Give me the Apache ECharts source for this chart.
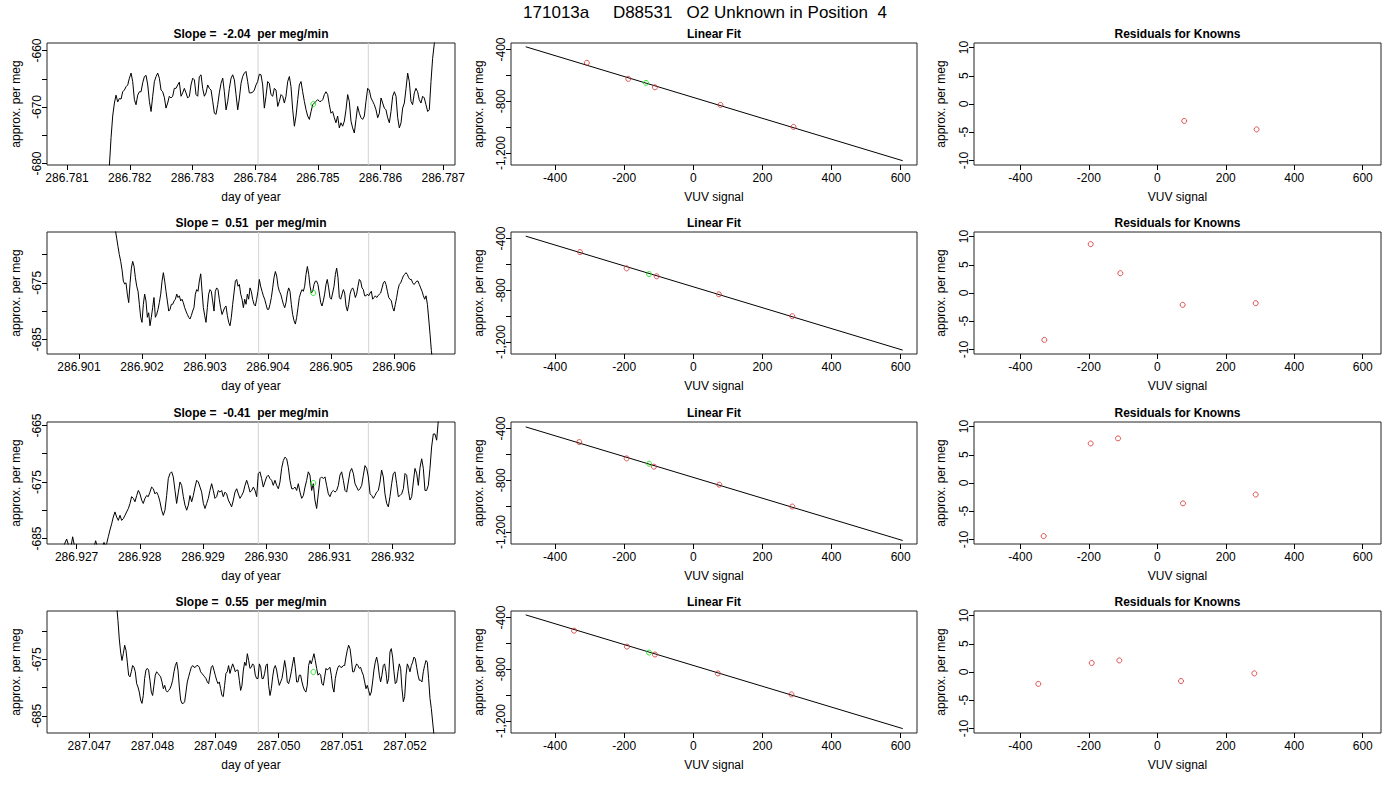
<!DOCTYPE html>
<html>
<head>
<meta charset="utf-8">
<title>171013a D88531 O2 Unknown in Position 4</title>
<script src="https://cdn.jsdelivr.net/npm/echarts@6/dist/echarts.min.js"></script>
<style>
html, body { margin: 0; padding: 0; background: #fff; }
#main { width: 1400px; height: 800px; }
</style>
</head>
<body>
<div id="main"></div>
<script>
// ---- texts ----
var mainTitle = '171013a     D88531   O2 Unknown in Position  4';
var slopes = ['-2.04', '0.51', '-0.41', '0.55'];

// ---- left column: raw traces (day of year, approx. per meg) ----
var t1 = [286.781675,286.781702,286.781728,286.781755,286.781781,286.781808,286.781834,286.781861,286.781888,286.781914,
286.781941,286.781968,286.781994,286.782021,286.782047,286.782074,286.782100,286.782127,286.782154,286.782180,
286.782207,286.782234,286.782260,286.782287,286.782313,286.782340,286.782366,286.782393,286.782420,286.782446,
286.782472,286.782499,286.782525,286.782552,286.782578,286.782605,286.782631,286.782658,286.782685,286.782711,
286.782738,286.782765,286.782791,286.782818,286.782844,286.782871,286.782897,286.782924,286.782951,286.782977,
286.783004,286.783031,286.783057,286.783084,286.783110,286.783137,286.783163,286.783190,286.783217,286.783243,
286.783270,286.783297,286.783323,286.783350,286.783376,286.783403,286.783429,286.783456,286.783483,286.783509,
286.783536,286.783563,286.783589,286.783616,286.783642,286.783669,286.783695,286.783722,286.783749,286.783775,
286.783801,286.783828,286.783854,286.783881,286.783907,286.783934,286.783960,286.783987,286.784014,286.784040,
286.784067,286.784094,286.784120,286.784147,286.784173,286.784200,286.784226,286.784253,286.784280,286.784306,
286.784333,286.784360,286.784386,286.784413,286.784439,286.784466,286.784492,286.784519,286.784546,286.784572,
286.784599,286.784626,286.784652,286.784679,286.784705,286.784732,286.784758,286.784785,286.784812,286.784838,
286.784865,286.784892,286.784918,286.784945,286.784971,286.784998,286.785024,286.785051,286.785078,286.785104,
286.785130,286.785157,286.785183,286.785210,286.785236,286.785263,286.785289,286.785316,286.785343,286.785369,
286.785396,286.785423,286.785449,286.785476,286.785502,286.785529,286.785555,286.785582,286.785609,286.785635,
286.785662,286.785689,286.785715,286.785742,286.785768,286.785795,286.785821,286.785848,286.785875,286.785901,
286.785928,286.785955,286.785981,286.786008,286.786034,286.786061,286.786087,286.786114,286.786141,286.786167,
286.786194,286.786221,286.786247,286.786274,286.786300,286.786327,286.786353,286.786380,286.786407,286.786433,
286.786459,286.786486,286.786512,286.786539,286.786565,286.786592,286.786618,286.786645,286.786672,286.786698,
286.786725,286.786752,286.786778,286.786805,286.786831,286.786858,286.786885];
var v1 = [-680.4,-675.4,-671.6,-669.3,-667.9,-669.1,-668.5,-668.6,-667.3,-667.0,
-666.4,-666.1,-664.9,-664.0,-665.5,-668.7,-669.6,-667.9,-667.3,-667.3,
-665.7,-664.6,-664.4,-666.1,-669.0,-670.8,-668.1,-665.5,-664.6,-664.0,
-664.9,-667.0,-667.3,-668.3,-670.2,-669.3,-668.1,-668.4,-668.1,-666.7,
-666.7,-666.1,-665.6,-668.1,-667.5,-666.7,-667.5,-668.4,-668.1,-666.1,
-664.9,-665.2,-667.8,-668.1,-664.6,-664.3,-666.7,-668.1,-667.5,-666.1,
-666.7,-667.0,-669.0,-671.1,-671.3,-669.6,-667.5,-665.8,-664.9,-667.3,
-670.5,-669.0,-666.7,-664.9,-664.3,-665.2,-667.8,-670.5,-668.4,-665.8,
-664.6,-664.0,-663.7,-665.5,-667.5,-667.5,-667.4,-667.0,-666.1,-665.5,
-664.2,-664.3,-666.1,-670.2,-668.1,-665.5,-665.8,-667.8,-668.1,-666.7,
-667.0,-669.9,-669.0,-667.8,-668.1,-669.3,-668.1,-665.5,-664.6,-666.4,
-670.5,-673.4,-671.6,-668.7,-666.1,-665.5,-667.3,-669.0,-670.5,-671.6,
-672.2,-670.8,-669.6,-669.3,-669.0,-668.7,-669.0,-669.0,-668.7,-667.8,
-667.3,-667.8,-669.6,-671.1,-670.8,-671.9,-672.8,-671.6,-673.7,-672.8,
-673.4,-672.5,-670.5,-667.8,-669.0,-672.5,-673.7,-674.6,-672.2,-669.9,
-671.1,-671.9,-672.2,-671.6,-669.0,-666.7,-667.0,-668.4,-669.0,-669.6,
-670.5,-671.9,-671.1,-668.4,-669.3,-670.2,-670.5,-671.9,-672.8,-670.8,
-668.1,-667.3,-668.1,-671.9,-673.7,-672.8,-670.2,-669.3,-666.7,-664.0,
-665.5,-669.0,-669.6,-667.5,-666.7,-667.3,-668.7,-669.3,-668.1,-668.4,
-669.6,-670.8,-670.5,-665.5,-661.4,-658.8,-656.5];

var t2 = [286.901577,286.901598,286.901619,286.901640,286.901662,286.901683,286.901704,286.901725,286.901746,286.901767,
286.901789,286.901810,286.901831,286.901852,286.901874,286.901895,286.901916,286.901937,286.901958,286.901979,
286.902000,286.902021,286.902042,286.902063,286.902085,286.902106,286.902127,286.902148,286.902169,286.902190,
286.902212,286.902233,286.902254,286.902275,286.902297,286.902318,286.902339,286.902360,286.902381,286.902402,
286.902424,286.902445,286.902466,286.902487,286.902509,286.902530,286.902551,286.902572,286.902593,286.902614,
286.902635,286.902656,286.902677,286.902698,286.902720,286.902741,286.902762,286.902783,286.902804,286.902825,
286.902847,286.902868,286.902889,286.902910,286.902932,286.902953,286.902974,286.902995,286.903016,286.903037,
286.903058,286.903079,286.903100,286.903121,286.903143,286.903164,286.903185,286.903206,286.903227,286.903248,
286.903270,286.903291,286.903312,286.903333,286.903355,286.903376,286.903397,286.903418,286.903439,286.903460,
286.903482,286.903503,286.903524,286.903545,286.903567,286.903588,286.903609,286.903630,286.903651,286.903672,
286.903693,286.903714,286.903735,286.903756,286.903778,286.903799,286.903820,286.903841,286.903862,286.903883,
286.903905,286.903926,286.903947,286.903968,286.903990,286.904011,286.904032,286.904053,286.904074,286.904095,
286.904117,286.904138,286.904159,286.904180,286.904202,286.904223,286.904244,286.904265,286.904286,286.904307,
286.904328,286.904349,286.904370,286.904391,286.904413,286.904434,286.904455,286.904476,286.904497,286.904518,
286.904540,286.904561,286.904582,286.904603,286.904625,286.904646,286.904667,286.904688,286.904709,286.904730,
286.904751,286.904772,286.904793,286.904814,286.904836,286.904857,286.904878,286.904899,286.904920,286.904941,
286.904963,286.904984,286.905005,286.905026,286.905048,286.905069,286.905090,286.905111,286.905132,286.905153,
286.905175,286.905196,286.905217,286.905238,286.905260,286.905281,286.905302,286.905323,286.905344,286.905365,
286.905386,286.905407,286.905428,286.905449,286.905471,286.905492,286.905513,286.905534,286.905555,286.905576,
286.905598,286.905619,286.905640,286.905661,286.905683,286.905704,286.905725,286.905746,286.905767,286.905788,
286.905810,286.905831,286.905852,286.905873,286.905895,286.905916,286.905937,286.905958,286.905979,286.906000,
286.906021,286.906042,286.906063,286.906084,286.906106,286.906127,286.906148,286.906169,286.906190,286.906211,
286.906233,286.906254,286.906275,286.906296,286.906318,286.906339,286.906360,286.906381,286.906402,286.906423,
286.906445,286.906466,286.906487,286.906508,286.906530,286.906551,286.906572,286.906593,286.906614];
var v2 = [-665.6,-667.1,-668.6,-670.0,-671.2,-672.7,-674.7,-675.2,-675.0,-677.0,
-678.5,-675.1,-672.4,-671.2,-672.1,-674.1,-675.6,-676.5,-678.8,-681.1,
-682.0,-678.8,-677.0,-678.2,-681.1,-680.3,-682.6,-681.1,-679.4,-677.6,
-681.1,-680.6,-679.7,-678.5,-677.0,-674.7,-673.2,-674.7,-676.5,-678.2,
-680.0,-679.7,-678.8,-678.8,-678.2,-677.9,-677.0,-677.6,-677.3,-678.2,
-677.9,-678.5,-679.4,-680.0,-680.6,-681.1,-681.4,-680.8,-680.0,-679.4,
-677.0,-676.2,-676.5,-674.7,-673.4,-676.5,-679.4,-680.8,-682.0,-679.4,
-677.0,-676.2,-676.5,-678.2,-680.0,-676.5,-675.9,-676.2,-677.9,-679.4,
-680.6,-680.0,-679.4,-679.1,-680.8,-682.0,-682.6,-681.1,-678.8,-676.8,
-674.7,-674.4,-675.6,-675.3,-677.0,-677.9,-679.4,-677.9,-678.8,-677.0,
-677.9,-675.9,-676.5,-677.9,-678.8,-679.1,-677.9,-676.5,-674.4,-675.6,
-676.5,-677.3,-677.9,-678.8,-679.7,-679.7,-678.8,-677.6,-675.9,-674.1,
-673.0,-673.8,-675.6,-676.5,-677.0,-677.9,-678.8,-679.4,-678.5,-676.8,
-675.9,-676.5,-678.8,-680.6,-681.7,-682.3,-681.1,-679.4,-677.6,-676.8,
-676.2,-676.5,-675.6,-673.5,-672.1,-673.5,-675.6,-676.8,-676.5,-675.3,
-674.7,-674.7,-675.3,-676.8,-678.5,-679.1,-678.2,-677.0,-675.3,-674.4,
-675.9,-677.6,-677.9,-676.8,-675.6,-673.5,-672.4,-674.1,-677.6,-677.9,
-677.0,-676.2,-676.8,-679.1,-680.0,-678.8,-677.0,-676.2,-675.9,-676.5,
-677.6,-677.0,-675.6,-674.4,-674.7,-675.9,-676.2,-677.3,-677.3,-677.0,
-677.3,-676.8,-676.5,-677.9,-677.6,-677.3,-677.6,-677.3,-677.0,-676.8,
-675.9,-675.0,-674.7,-675.3,-676.5,-677.6,-677.9,-678.2,-679.4,-680.0,
-678.8,-677.6,-676.2,-675.3,-675.0,-674.4,-673.8,-673.5,-673.2,-673.5,
-674.1,-674.4,-674.4,-675.0,-675.3,-675.0,-674.7,-674.7,-675.3,-675.9,
-676.5,-677.3,-677.9,-677.3,-678.8,-681.4,-684.1,-687.0,-689.3];

var t3 = [286.926579,286.926790,286.926843,286.926880,286.926911,286.926938,286.926969,286.927275,286.927302,286.927328,286.927407,286.927434,286.927454,286.927476,
286.927502,286.927528,286.927555,286.927581,286.927607,286.927634,286.927660,286.927687,286.927713,286.927739,
286.927766,286.927792,286.927819,286.927845,286.927871,286.927898,286.927924,286.927951,286.927977,286.928003,
286.928029,286.928055,286.928082,286.928108,286.928134,286.928161,286.928187,286.928214,286.928240,286.928266,
286.928293,286.928319,286.928346,286.928372,286.928398,286.928425,286.928451,286.928478,286.928504,286.928530,
286.928557,286.928583,286.928610,286.928636,286.928662,286.928689,286.928715,286.928742,286.928768,286.928794,
286.928821,286.928847,286.928874,286.928900,286.928926,286.928953,286.928979,286.929006,286.929032,286.929058,
286.929084,286.929110,286.929137,286.929163,286.929189,286.929216,286.929242,286.929269,286.929295,286.929321,
286.929348,286.929374,286.929401,286.929427,286.929453,286.929480,286.929506,286.929533,286.929559,286.929585,
286.929612,286.929638,286.929665,286.929691,286.929717,286.929744,286.929770,286.929797,286.929823,286.929849,
286.929875,286.929901,286.929928,286.929954,286.929980,286.930007,286.930033,286.930060,286.930086,286.930112,
286.930139,286.930165,286.930192,286.930218,286.930244,286.930271,286.930297,286.930324,286.930350,286.930376,
286.930403,286.930429,286.930456,286.930482,286.930508,286.930535,286.930561,286.930588,286.930614,286.930640,
286.930666,286.930692,286.930719,286.930745,286.930771,286.930798,286.930824,286.930851,286.930877,286.930903,
286.930930,286.930956,286.930983,286.931009,286.931035,286.931062,286.931088,286.931115,286.931141,286.931167,
286.931194,286.931220,286.931247,286.931273,286.931299,286.931326,286.931352,286.931379,286.931405,286.931431,
286.931458,286.931484,286.931511,286.931537,286.931563,286.931590,286.931616,286.931643,286.931669,286.931695,
286.931721,286.931747,286.931774,286.931800,286.931826,286.931853,286.931879,286.931906,286.931932,286.931958,
286.931985,286.932011,286.932038,286.932064,286.932090,286.932117,286.932143,286.932170,286.932196,286.932222,
286.932249,286.932275,286.932302,286.932328,286.932354,286.932381,286.932407,286.932434,286.932460,286.932486,
286.932512,286.932538,286.932565,286.932591,286.932617,286.932644,286.932670,286.932697,286.932723,286.932749];
var v3 = [-686.5,-686.5,-685.1,-686.5,-686.5,-684.7,-686.5,-686.5,-685.4,-686.5,-686.5,-685.7,-686.3,-685.9,
-684.7,-683.5,-682.4,-681.2,-680.3,-681.2,-681.8,-680.9,-681.8,-681.5,
-680.9,-680.3,-679.7,-678.8,-677.6,-677.9,-678.5,-677.4,-676.5,-677.1,
-678.2,-678.8,-677.9,-677.4,-677.6,-676.8,-675.9,-676.2,-677.1,-676.8,
-677.4,-678.5,-680.0,-680.9,-680.0,-677.4,-674.4,-673.5,-673.2,-674.1,
-676.5,-678.8,-676.8,-675.0,-675.6,-677.6,-679.1,-680.0,-679.1,-677.4,
-678.5,-677.4,-675.9,-674.7,-675.0,-675.9,-676.8,-678.8,-679.7,-678.8,
-677.9,-676.5,-675.3,-676.5,-677.9,-677.6,-676.5,-676.8,-676.5,-677.6,
-676.8,-677.1,-678.2,-678.8,-679.4,-678.2,-676.8,-676.2,-677.1,-677.9,
-677.4,-676.8,-675.6,-674.7,-675.6,-676.8,-676.5,-675.9,-676.5,-677.6,
-673.5,-673.2,-674.4,-675.9,-675.0,-674.1,-673.8,-674.4,-674.7,-675.6,
-674.7,-675.6,-676.2,-675.0,-672.6,-671.2,-670.6,-670.9,-672.4,-674.7,
-676.2,-676.2,-675.9,-676.5,-675.3,-676.8,-677.9,-677.4,-675.9,-674.7,
-673.2,-673.8,-676.5,-675.3,-678.2,-679.7,-677.1,-674.4,-674.1,-674.4,
-674.1,-675.6,-677.1,-677.6,-676.8,-676.5,-676.8,-676.5,-675.6,-673.8,
-673.2,-674.7,-676.5,-676.8,-675.0,-673.2,-672.6,-673.5,-675.3,-675.9,
-676.5,-676.2,-675.6,-673.8,-672.1,-672.6,-674.1,-677.1,-677.4,-677.9,
-677.4,-676.8,-676.5,-675.0,-672.9,-674.1,-677.1,-678.8,-679.4,-677.6,
-675.3,-673.5,-673.2,-675.3,-677.6,-677.4,-677.1,-676.2,-673.5,-673.8,
-676.5,-678.2,-677.6,-675.0,-672.6,-673.5,-675.6,-672.4,-670.9,-672.6,
-676.5,-676.5,-675.6,-672.6,-668.8,-666.5,-666.5,-667.6,-664.1,-662.5];

var t4 = [287.047433,287.047454,287.047475,287.047496,287.047517,287.047539,287.047560,287.047581,287.047602,287.047623,
287.047644,287.047665,287.047686,287.047707,287.047728,287.047750,287.047771,287.047792,287.047813,287.047834,
287.047855,287.047876,287.047897,287.047918,287.047939,287.047961,287.047982,287.048003,287.048024,287.048045,
287.048067,287.048088,287.048109,287.048130,287.048151,287.048173,287.048194,287.048215,287.048236,287.048257,
287.048278,287.048299,287.048320,287.048341,287.048362,287.048384,287.048405,287.048426,287.048447,287.048468,
287.048489,287.048510,287.048531,287.048552,287.048573,287.048595,287.048616,287.048637,287.048658,287.048679,
287.048700,287.048721,287.048742,287.048763,287.048784,287.048806,287.048827,287.048848,287.048869,287.048890,
287.048911,287.048932,287.048953,287.048974,287.048995,287.049017,287.049038,287.049059,287.049080,287.049101,
287.049122,287.049143,287.049164,287.049185,287.049206,287.049228,287.049249,287.049270,287.049291,287.049312,
287.049334,287.049355,287.049376,287.049397,287.049418,287.049440,287.049461,287.049482,287.049503,287.049524,
287.049545,287.049566,287.049587,287.049608,287.049629,287.049651,287.049672,287.049693,287.049714,287.049735,
287.049756,287.049777,287.049798,287.049819,287.049840,287.049862,287.049883,287.049904,287.049925,287.049946,
287.049967,287.049988,287.050009,287.050030,287.050051,287.050073,287.050094,287.050115,287.050136,287.050157,
287.050178,287.050199,287.050220,287.050241,287.050262,287.050284,287.050305,287.050326,287.050347,287.050368,
287.050389,287.050410,287.050431,287.050452,287.050473,287.050495,287.050516,287.050537,287.050558,287.050579,
287.050601,287.050622,287.050643,287.050664,287.050685,287.050707,287.050728,287.050749,287.050770,287.050791,
287.050812,287.050833,287.050854,287.050875,287.050896,287.050918,287.050939,287.050960,287.050981,287.051002,
287.051023,287.051044,287.051065,287.051086,287.051107,287.051129,287.051150,287.051171,287.051192,287.051213,
287.051234,287.051255,287.051276,287.051297,287.051318,287.051340,287.051361,287.051382,287.051403,287.051424,
287.051445,287.051466,287.051487,287.051508,287.051529,287.051551,287.051572,287.051593,287.051614,287.051635,
287.051656,287.051677,287.051698,287.051719,287.051740,287.051762,287.051783,287.051804,287.051825,287.051846,
287.051868,287.051889,287.051910,287.051931,287.051952,287.051974,287.051995,287.052016,287.052037,287.052058,
287.052079,287.052100,287.052121,287.052142,287.052163,287.052185,287.052206,287.052227,287.052248,287.052269,
287.052290,287.052311,287.052332,287.052353,287.052374,287.052396,287.052417,287.052438,287.052459];
var v4 = [-665.5,-668.1,-671.4,-673.7,-675.2,-674.0,-672.5,-673.4,-675.5,-677.8,
-678.1,-677.2,-676.1,-676.4,-677.2,-679.3,-679.9,-680.8,-682.2,-682.8,
-681.4,-678.4,-676.9,-676.6,-676.9,-678.7,-680.8,-681.4,-679.6,-677.8,
-677.2,-677.5,-677.8,-678.1,-679.0,-680.2,-679.6,-680.5,-680.8,-680.5,
-680.2,-679.6,-678.7,-677.2,-676.1,-675.5,-676.9,-679.9,-682.2,-682.8,
-682.8,-682.5,-680.8,-679.0,-678.1,-677.2,-676.4,-676.1,-676.4,-676.4,
-676.1,-676.1,-676.4,-677.2,-677.5,-677.8,-678.1,-678.4,-679.0,-679.3,
-677.8,-676.4,-676.1,-676.9,-677.8,-678.7,-679.3,-679.0,-680.2,-681.4,
-681.6,-679.6,-677.5,-677.2,-676.1,-677.5,-676.6,-675.8,-676.4,-677.2,
-676.9,-676.9,-678.7,-680.5,-679.6,-676.9,-675.5,-676.1,-674.0,-675.2,
-676.6,-676.4,-675.8,-676.1,-677.8,-678.4,-678.4,-675.8,-676.4,-678.4,
-678.4,-677.5,-676.1,-675.8,-679.6,-681.4,-680.2,-678.1,-676.6,-676.1,
-676.9,-678.4,-679.6,-679.0,-678.4,-676.9,-675.2,-676.6,-679.0,-679.3,
-678.4,-677.2,-675.8,-674.6,-676.4,-679.0,-679.0,-677.8,-677.8,-679.0,
-679.9,-680.5,-680.8,-679.6,-676.1,-675.2,-675.8,-674.9,-674.0,-675.2,
-676.6,-677.8,-677.5,-677.8,-679.3,-679.6,-678.1,-676.6,-676.9,-676.6,
-676.4,-677.8,-679.9,-680.8,-678.4,-677.2,-676.4,-676.1,-676.4,-676.4,
-676.1,-676.1,-674.6,-673.4,-672.5,-673.1,-674.9,-677.2,-677.2,-676.4,
-675.8,-676.1,-676.6,-676.4,-677.2,-677.8,-679.0,-680.2,-679.6,-680.5,
-681.4,-680.8,-679.0,-676.9,-675.5,-674.6,-675.8,-677.8,-679.0,-677.8,
-676.1,-675.8,-677.2,-679.3,-678.4,-673.7,-673.1,-674.6,-677.2,-679.3,
-679.0,-677.2,-675.8,-676.6,-680.2,-682.5,-681.6,-677.8,-675.8,-676.4,
-677.2,-676.1,-675.5,-674.6,-674.9,-676.4,-677.8,-678.7,-678.7,-679.0,
-677.2,-676.1,-675.2,-675.5,-678.4,-681.9,-683.7,-686.1,-688.4];

// unknown (green) point per row, grey marker times
var unkT = [286.784928, 286.904719, 286.930746, 287.050548];
var unkV = [-669.47, -676.8, -675.18, -677.24];
var greyT = [[286.784046, 286.785805], [286.903852, 286.905598], [286.929875, 286.931616], [287.049677, 287.051419]];

// left axes
var leftXMin = [286.78068, 286.900492, 286.926532, 287.04633];
var leftXMax = [286.787188, 286.906968, 286.932987, 287.052792];
var leftYMin = [-680.27, -687.6, -685.98, -688.04];
var leftYMax = [-658.67, -666.0, -664.38, -666.44];
var leftXTicks = [
  [286.781, 286.782, 286.783, 286.784, 286.785, 286.786, 286.787],
  [286.901, 286.902, 286.903, 286.904, 286.905, 286.906],
  [286.927, 286.928, 286.929, 286.930, 286.931, 286.932],
  [287.047, 287.048, 287.049, 287.050, 287.051, 287.052]
];
var leftYTicks = [[-680, -675, -670, -665, -660], [-685, -680, -675, -670], [-685, -680, -675, -670, -665], [-685, -680, -675, -670]];
var leftYLabels = [[-680, -670, -660], [-685, -675], [-685, -675, -665], [-685, -675]];

// middle column: linear fit of knowns
var knownX = [
  [-308, -188, -111, 78.6, 290],
  [-328, -193, -106, 74, 286.5],
  [-330, -193, -114, 75, 286.5],
  [-345, -192, -111, 71, 284]
];
var knownY = [
  [-503, -627, -692, -828, -998],
  [-505, -631, -692, -831, -1000],
  [-505, -631, -695, -834, -1003],
  [-502, -625, -686, -832, -994]
];
var unkVuv = [-137, -128, -128, -128];
var unkFit = [-658, -675, -672, -671];
var fitX = [-485, 606];
var fitY = [[-379, -1259], [-382, -1262], [-388, -1265], [-380, -1258]];

// right column: residuals for knowns
var resX = [
  [78.6, 290],
  [-330, -194.6, -108, 74.1, 287.4],
  [-332, -194.6, -114.8, 75.1, 287.4],
  [-347.6, -191.6, -111, 69.2, 283.4]
];
var resY = [
  [-3.0, -4.5],
  [-8.3, 8.65, 3.5, -2.1, -1.8],
  [-9.4, 7.0, 7.9, -3.6, -2.05],
  [-2.1, 1.6, 2.05, -1.6, -0.25]
];

var vuvTicks = [-400, -200, 0, 200, 400, 600];
var fitYTicks = [-1200, -1000, -800, -600, -400];
var fitYLabels = [-1200, -800, -400];
var resYTicks = [-10, -5, 0, 5, 10];

// ---- layout ----
var FONT = '"Liberation Sans", Arial, Helvetica, sans-serif';
var RED = '#d42a2a';
var GREEN = '#00e600';
var colLeft = [47, 511, 974];
var colWidth = [408, 406, 407];
var rowTop = [43, 232, 422, 611];
var boxH = 122;

var traces = [[t1, v1], [t2, v2], [t3, v3], [t4, v4]];

function pairs(xs, ys) {
  return xs.map(function (x, i) { return [x, ys[i]]; });
}

function makeAxis(opt) {
  return {
    type: 'value',
    gridIndex: opt.grid,
    min: opt.min,
    max: opt.max,
    axisLine: { show: false, onZero: false },
    splitLine: { show: false },
    axisTick: { show: true, inside: false, length: 5, lineStyle: { color: '#000', width: 1 }, customValues: opt.ticks },
    axisLabel: {
      color: '#000', fontSize: 12, fontFamily: FONT,
      margin: opt.margin, rotate: opt.rotate || 0,
      customValues: opt.labels || opt.ticks,
      formatter: opt.formatter
    },
    name: opt.name,
    nameLocation: 'middle',
    nameGap: opt.nameGap,
    nameTextStyle: { color: '#000', fontSize: 12, fontFamily: FONT }
  };
}

var option = {
  animation: false,
  backgroundColor: '#fff',
  grid: [],
  xAxis: [],
  yAxis: [],
  series: [],
  graphic: { elements: [] }
};

option.graphic.elements.push({
  type: 'text', x: 705, y: 12.5,
  style: { text: mainTitle, font: '17px ' + FONT, fill: '#000', textAlign: 'center', textVerticalAlign: 'middle' }
});

for (var r = 0; r < 4; r++) {
  for (var c = 0; c < 3; c++) {
    var idx = r * 3 + c;
    option.grid.push({
      left: colLeft[c], top: rowTop[r], width: colWidth[c], height: boxH,
      show: true, borderColor: '#222', borderWidth: 1, backgroundColor: 'transparent',
      outerBoundsMode: 'none'
    });
    var ttl = c === 0 ? 'Slope =  ' + slopes[r] + '  per meg/min' : (c === 1 ? 'Linear Fit' : 'Residuals for Knowns');
    option.graphic.elements.push({
      type: 'text', x: colLeft[c] + colWidth[c] / 2, y: rowTop[r] - 9.5,
      style: { text: ttl, font: 'bold 12px ' + FONT, fill: '#000', textAlign: 'center', textVerticalAlign: 'middle' }
    });

    if (c === 0) {
      option.xAxis.push(makeAxis({
        grid: idx, min: leftXMin[r], max: leftXMax[r], ticks: leftXTicks[r], margin: 7,
        formatter: function (v) { return v.toFixed(3); }, name: 'day of year', nameGap: 26
      }));
      option.yAxis.push(makeAxis({
        grid: idx, min: leftYMin[r], max: leftYMax[r], ticks: leftYTicks[r], labels: leftYLabels[r],
        margin: 4, rotate: 90, name: 'approx. per meg', nameGap: 25
      }));
      // grey marker lines, full height of the panel
      greyT[r].forEach(function (g) {
        option.series.push({
          type: 'line', xAxisIndex: idx, yAxisIndex: idx, silent: true,
          data: [[g, leftYMin[r]], [g, leftYMax[r]]],
          symbol: 'none', showSymbol: false, z: 1,
          lineStyle: { color: '#d3d3d3', width: 1 }
        });
      });
      option.series.push({
        type: 'line', xAxisIndex: idx, yAxisIndex: idx,
        data: pairs(traces[r][0], traces[r][1]),
        symbol: 'none', showSymbol: false, clip: true, z: 3,
        lineStyle: { color: '#000', width: 1 }
      });
      option.series.push({
        type: 'scatter', xAxisIndex: idx, yAxisIndex: idx,
        data: [[unkT[r], unkV[r]]], symbol: 'circle', symbolSize: 5, z: 4,
        itemStyle: { color: 'rgba(0,0,0,0)', borderColor: GREEN, borderWidth: 1 }
      });
    } else if (c === 1) {
      option.xAxis.push(makeAxis({
        grid: idx, min: -527.5, max: 647.3, ticks: vuvTicks, margin: 7, name: 'VUV signal', nameGap: 26
      }));
      option.yAxis.push(makeAxis({
        grid: idx, min: -1292, max: -350, ticks: fitYTicks, labels: fitYLabels,
        margin: 4, rotate: 90, name: 'approx. per meg', nameGap: 26
      }));
      option.series.push({
        type: 'line', xAxisIndex: idx, yAxisIndex: idx,
        data: pairs(fitX, fitY[r]), symbol: 'none', showSymbol: false, z: 2,
        lineStyle: { color: '#000', width: 1 }
      });
      option.series.push({
        type: 'scatter', xAxisIndex: idx, yAxisIndex: idx,
        data: pairs(knownX[r], knownY[r]), symbol: 'circle', symbolSize: 5, z: 3,
        itemStyle: { color: 'rgba(0,0,0,0)', borderColor: RED, borderWidth: 1 }
      });
      option.series.push({
        type: 'scatter', xAxisIndex: idx, yAxisIndex: idx,
        data: [[unkVuv[r], unkFit[r]]], symbol: 'circle', symbolSize: 5, z: 4,
        itemStyle: { color: 'rgba(0,0,0,0)', borderColor: GREEN, borderWidth: 1 }
      });
    } else {
      option.xAxis.push(makeAxis({
        grid: idx, min: -535.5, max: 653.4, ticks: vuvTicks, margin: 7, name: 'VUV signal', nameGap: 26
      }));
      option.yAxis.push(makeAxis({
        grid: idx, min: -10.8, max: 10.8, ticks: resYTicks,
        margin: 4, rotate: 90, name: 'approx. per meg', nameGap: 27
      }));
      option.series.push({
        type: 'scatter', xAxisIndex: idx, yAxisIndex: idx,
        data: pairs(resX[r], resY[r]), symbol: 'circle', symbolSize: 5, z: 3,
        itemStyle: { color: 'rgba(0,0,0,0)', borderColor: RED, borderWidth: 1 }
      });
    }
  }
}

var chart = echarts.init(document.getElementById('main'), null, { renderer: 'svg' });
chart.setOption(option);
window.addEventListener('resize', function () {
  chart.resize();
});
</script>
</body>
</html>
